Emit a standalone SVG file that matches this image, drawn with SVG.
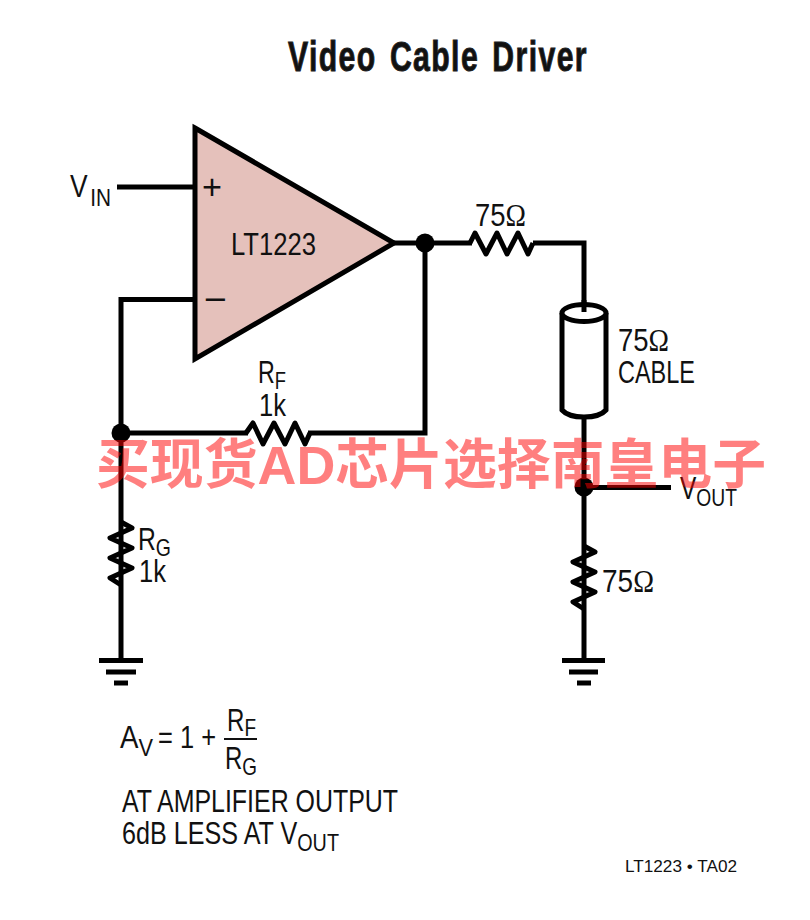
<svg xmlns="http://www.w3.org/2000/svg" width="810" height="920" viewBox="0 0 810 920">
<style>
.w{fill:none;stroke:#000;stroke-width:5;stroke-linejoin:miter}
.r{fill:none;stroke:#000;stroke-width:5;stroke-linejoin:round;stroke-linecap:butt}
.d{fill:#000}
text{font-family:"Liberation Sans",Arial,sans-serif;fill:#111}
.t{font-size:30.500px}
.s{font-size:24px}
.o{font-family:"Liberation Serif",serif}
</style>
<rect width="810" height="920" fill="#fff"/>
<text x="288" y="71" font-size="43" font-weight="bold" style="letter-spacing:2px;word-spacing:5px;stroke:#222;stroke-width:1px" textLength="300" lengthAdjust="spacingAndGlyphs">Video Cable Driver</text>
<g id="connectors">
<path class="w" d="M117 187H195"/>
<path class="w" d="M195 299.500H121V660"/>
<path class="w" d="M121 433H248M308 433H425V243"/>
<path class="w" d="M393 243H472M533 243H584V313"/>
<path class="w" d="M584 417V658M584 487.500H671"/>
</g>
<g id="opamp">
<polygon points="195,128 394,243 195,359" fill="#e5c1bb" stroke="#000" stroke-width="5"/>
<text x="202" y="199" font-size="35" textLength="20" lengthAdjust="spacingAndGlyphs">+</text>
<text x="204" y="311" font-size="34" textLength="23" lengthAdjust="spacingAndGlyphs">−</text>
<text class="t" x="231" y="255" textLength="85" lengthAdjust="spacingAndGlyphs">LT1223</text>
</g>
<g id="vin"><text class="t" x="70" y="197" textLength="41" lengthAdjust="spacingAndGlyphs">V<tspan class="s" dx="3" dy="9">IN</tspan></text></g>
<g id="rf">
<path class="r" d="M246 433L253 423L263 444L274 423L285 444L295 423L305 444L310 433"/>
<text class="t" x="258" y="383" textLength="28" lengthAdjust="spacingAndGlyphs">R<tspan class="s" dy="6">F</tspan></text>
<text class="t" x="259" y="416" textLength="27" lengthAdjust="spacingAndGlyphs">1k</text>
</g>
<g id="r75a">
<path class="r" d="M470 243L475 233L486 254L497 233L507 254L518 233L528 254L533 243"/>
<text class="t" x="475" y="226" textLength="51" lengthAdjust="spacingAndGlyphs">75<tspan class="o">Ω</tspan></text>
</g>
<g id="cable">
<path d="M562 313V410Q568 417 584 417Q600 417 606 410V313" fill="#fff" stroke="#000" stroke-width="5"/>
<ellipse cx="584" cy="313" rx="22" ry="8.500" fill="#fff" stroke="#000" stroke-width="5"/>
<path class="w" d="M584 300V312"/>
<text class="t" x="618" y="351" textLength="51" lengthAdjust="spacingAndGlyphs">75<tspan class="o">Ω</tspan></text>
<text class="t" x="618" y="383" textLength="77" lengthAdjust="spacingAndGlyphs">CABLE</text>
</g>
<g id="rg">
<path class="r" d="M121 522L132 528L110 538L132 548L110 558L132 568L110 578L121 585"/>
<text class="t" x="138" y="550" textLength="33" lengthAdjust="spacingAndGlyphs">R<tspan class="s" dy="6">G</tspan></text>
<text class="t" x="139" y="582" textLength="27" lengthAdjust="spacingAndGlyphs">1k</text>
</g>
<g id="r75b">
<path class="r" d="M584 546L595 552L573 562L595 572L573 582L595 592L573 602L584 609"/>
<text class="t" x="602" y="592" textLength="52" lengthAdjust="spacingAndGlyphs">75<tspan class="o">Ω</tspan></text>
</g>
<g id="gnd1"><path class="w" d="M99 660.500H143M106 672H136"/><path class="w" d="M114 683H128"/></g>
<g id="gnd2"><path class="w" d="M562 660.500H605M569 672H598"/><path class="w" d="M577 683H591"/></g>
<g id="nodes">
<circle class="d" cx="121" cy="433" r="9.500"/>
<circle class="d" cx="425" cy="243" r="9.500"/>
<circle class="d" cx="584" cy="487" r="9.500"/>
</g>
<g id="vout"><text class="t" x="680" y="499" textLength="57" lengthAdjust="spacingAndGlyphs">V<tspan class="s" dy="7">OUT</tspan></text></g>
<g id="formula">
<text class="t" x="120" y="748" textLength="33" lengthAdjust="spacingAndGlyphs">A<tspan class="s" dy="8">V</tspan></text>
<text class="t" x="158" y="748" textLength="58" lengthAdjust="spacingAndGlyphs">= 1 +</text>
<path d="M224 739H257" stroke="#111" stroke-width="2"/>
<text class="t" x="227" y="731" textLength="29" lengthAdjust="spacingAndGlyphs">R<tspan class="s" dy="5">F</tspan></text>
<text class="t" x="225" y="769" textLength="32" lengthAdjust="spacingAndGlyphs">R<tspan class="s" dy="6">G</tspan></text>
<text class="t" x="122" y="812" textLength="276" lengthAdjust="spacingAndGlyphs">AT AMPLIFIER OUTPUT</text>
<text class="t" x="122" y="844" textLength="217" lengthAdjust="spacingAndGlyphs">6dB LESS AT V<tspan class="s" dy="7">OUT</tspan></text>
</g>
<text x="625" y="872" font-size="16" textLength="112" lengthAdjust="spacingAndGlyphs">LT1223 • TA02</text>
<text x="96" y="484" font-size="54" font-weight="bold" style="font-family:'Liberation Sans','Noto Sans CJK SC',sans-serif;fill:#ff0000" fill-opacity="0.5" textLength="670" lengthAdjust="spacingAndGlyphs">买现货AD芯片选择南皇电子</text>
</svg>
